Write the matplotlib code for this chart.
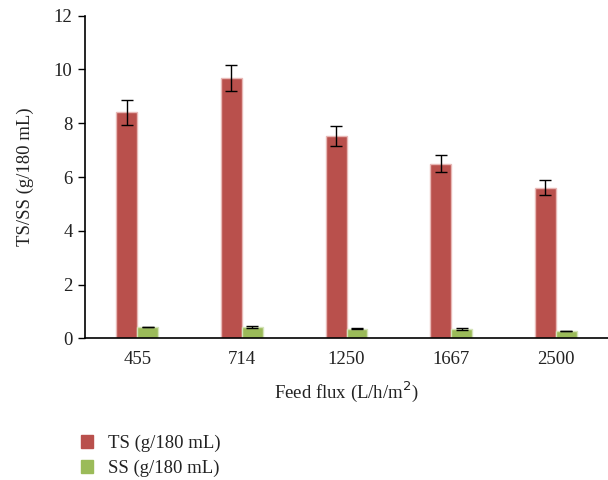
import numpy as np
import matplotlib
matplotlib.use("Agg")
import matplotlib.pyplot as plt
from matplotlib.patches import Patch

flux_labels = ["455", "714", "1250", "1667", "2500"]
ts_values = [8.4, 9.68, 7.52, 6.5, 5.6]
ts_errors = [0.45, 0.47, 0.38, 0.32, 0.28]
ss_values = [0.42, 0.43, 0.36, 0.34, 0.28]
ss_errors = [0.01, 0.03, 0.03, 0.03, 0.01]

plt.rcParams["font.family"] = ["Liberation Serif", "DejaVu Serif"]

fig = plt.figure(figsize=(6.08, 4.8), dpi=100)
ax = fig.add_axes([85 / 608, 1 - 338.3 / 480, 1 - 85 / 608, (338.3 - 15.7) / 480])

x = np.arange(len(flux_labels))
w = 0.2
err_kw = dict(ecolor="black", elinewidth=1.0, capsize=4, capthick=1.0)
ax.bar(x - w / 2, ts_values, w, yerr=ts_errors, color="#B9504C",
       edgecolor="#E8B8B6", linewidth=1, error_kw=err_kw, label="TS (g/180 mL)")
ax.bar(x + w / 2, ss_values, w, yerr=ss_errors, color="#9BBB59",
       edgecolor="#D4E3B8", linewidth=1, error_kw=err_kw, label="SS (g/180 mL)")

ax.set_xlim(-0.5, len(flux_labels) - 0.5)
ax.set_ylim(0, 12)
ax.set_yticks(range(0, 13, 2))
ax.set_xticks(x)
ax.set_xticklabels(flux_labels)
ax.tick_params(axis="x", length=0, pad=9, labelsize=13.5, labelcolor="#222222")
ax.tick_params(axis="y", length=5, width=1, pad=4, labelsize=13.5,
               labelcolor="#222222", color="black")

ax.spines["top"].set_visible(False)
ax.spines["right"].set_visible(False)
ax.spines["left"].set_linewidth(1.2)
ax.spines["bottom"].set_linewidth(1.2)

ax.set_ylabel("TS/SS (g/180 mL)", fontsize=13.5, color="#222222", labelpad=14)
ax.set_xlabel("Feed flux (L/h/m$^2$)", fontsize=13.5, color="#222222", labelpad=8)

handles = [Patch(color="#B9504C"), Patch(color="#9BBB59")]
fig.legend(handles, ["TS (g/180 mL)", "SS (g/180 mL)"], loc="upper left",
           bbox_to_anchor=(64 / 608, 1 - 418 / 480), frameon=False,
           handlelength=0.65, handleheight=0.65, handletextpad=0.8,
           labelspacing=0.4, fontsize=13.5, labelcolor="#222222")

fig.savefig("out.png", dpi=100)
